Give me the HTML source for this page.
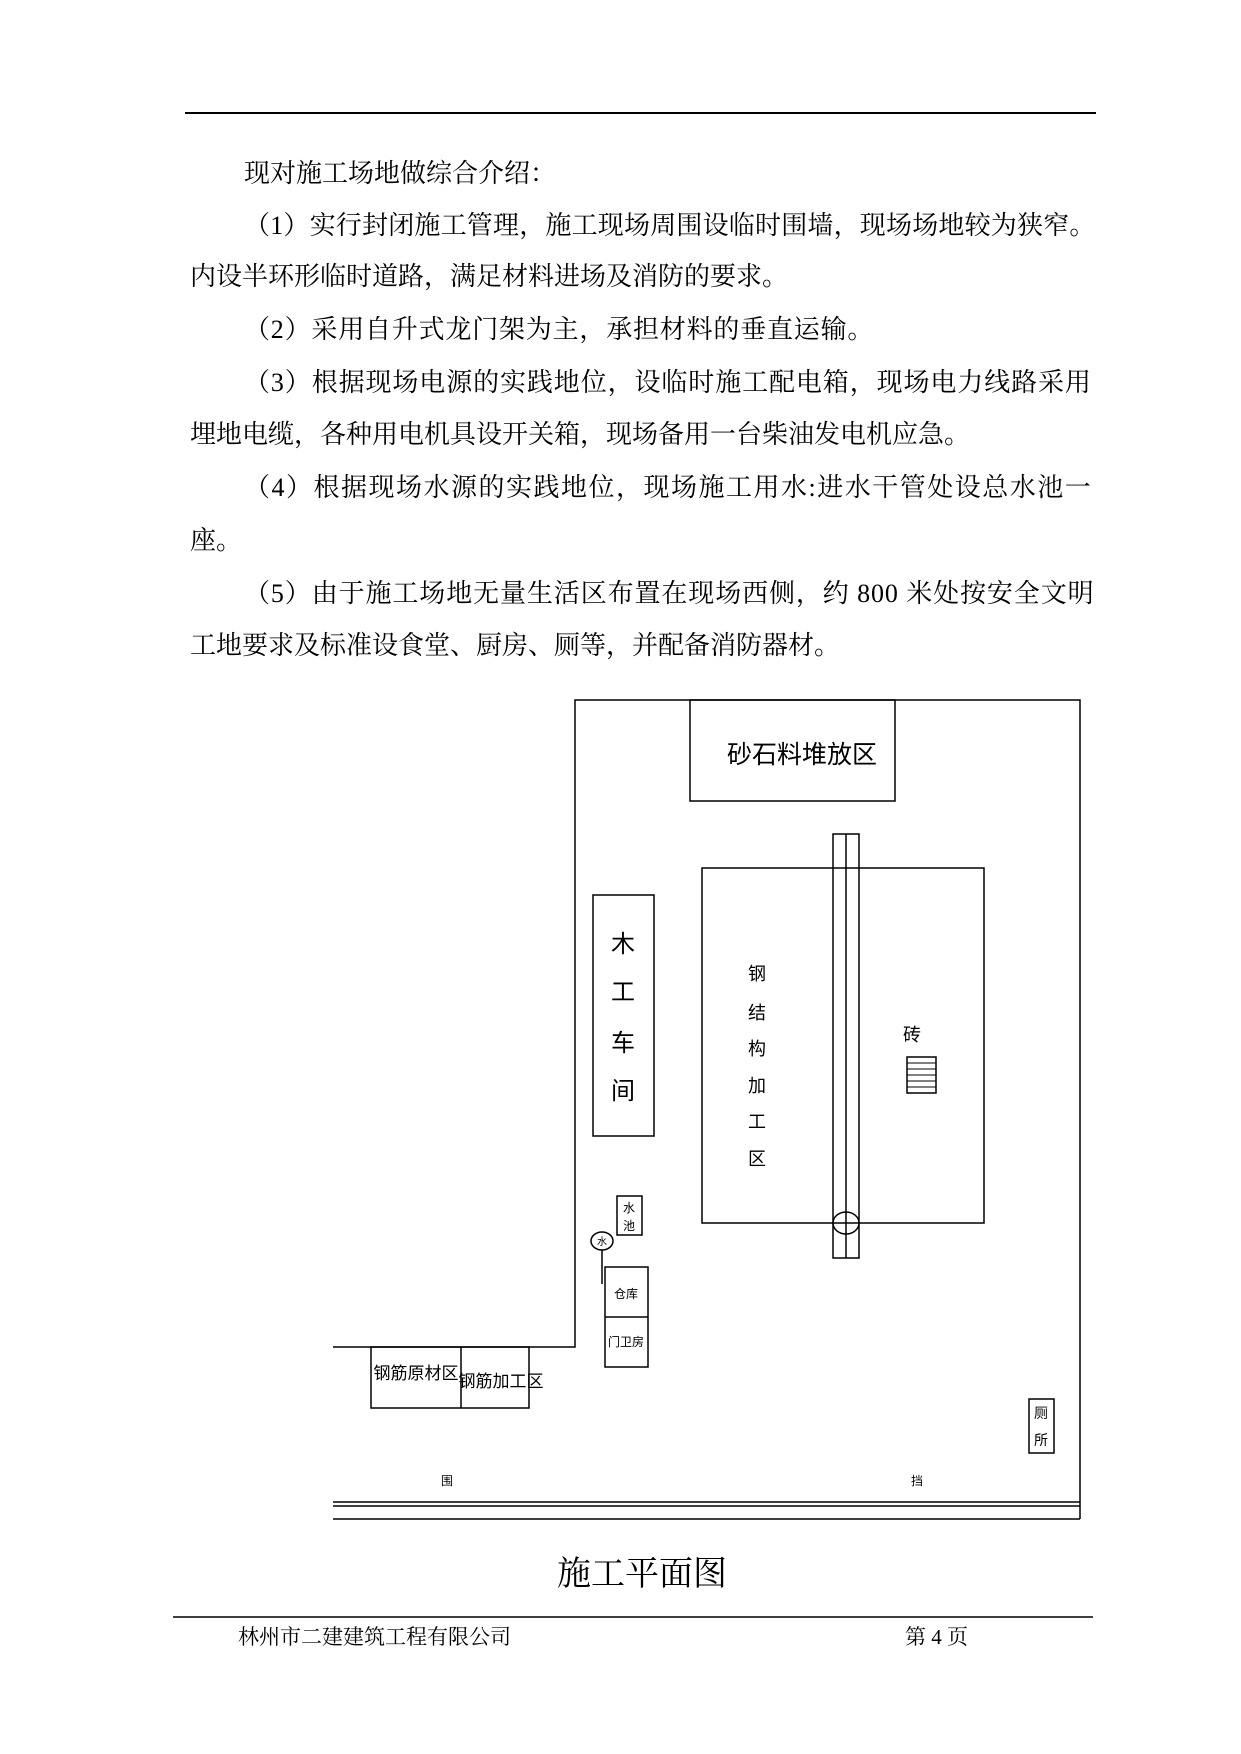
<!DOCTYPE html>
<html><head><meta charset="utf-8"><style>
body{margin:0;background:#fff;}
.p{position:relative;width:1241px;height:1754px;overflow:hidden;font-family:"Liberation Serif","Noto Serif CJK SC","Noto Sans CJK SC",serif;color:#000;}
.t{position:absolute;left:190px;font-size:26px;white-space:nowrap;line-height:30px;}
svg{position:absolute;left:0;top:0;}
</style></head><body><div class="p">
<div style="position:absolute;left:185px;top:112px;width:911px;height:2px;background:#000"></div>
<div class="t" style="left:244px;top:159px">现对施工场地做综合介绍：</div>
<div class="t" style="left:244px;top:211px;letter-spacing:0.2px">（1）实行封闭施工管理，施工现场周围设临时围墙，现场场地较为狭窄。</div>
<div class="t" style="top:262px">内设半环形临时道路，满足材料进场及消防的要求。</div>
<div class="t" style="left:244px;top:315px;letter-spacing:0.8px">（2）采用自升式龙门架为主，承担材料的垂直运输。</div>
<div class="t" style="left:244px;top:368px;letter-spacing:0.9px">（3）根据现场电源的实践地位，设临时施工配电箱，现场电力线路采用</div>
<div class="t" style="top:420px">埋地电缆，各种用电机具设开关箱，现场备用一台柴油发电机应急。</div>
<div class="t" style="left:244px;top:473px;letter-spacing:1.5px">（4）根据现场水源的实践地位，现场施工用水:进水干管处设总水池一</div>
<div class="t" style="top:526px">座。</div>
<div class="t" style="left:244px;top:579px;letter-spacing:0.9px">（5）由于施工场地无量生活区布置在现场西侧，约 800 米处按安全文明</div>
<div class="t" style="top:631px">工地要求及标准设食堂、厨房、厕等，并配备消防器材。</div>
<svg width="1241" height="1754" font-family="'Noto Sans CJK SC',sans-serif">
<g fill="none" stroke="#000" stroke-width="1.5">
<polyline points="333,1347 575,1347 575,700 1080,700 1080,1519"/>
<line x1="333" y1="1502" x2="1080" y2="1502"/><line x1="333" y1="1506" x2="1080" y2="1506"/><line x1="333" y1="1519" x2="1080" y2="1519"/>
<rect x="690" y="700" width="205" height="101"/>
<rect x="702" y="868" width="282" height="355"/>
<rect x="833" y="834" width="26" height="424"/><line x1="846" y1="834" x2="846" y2="1258"/>
<ellipse cx="846" cy="1223" rx="13" ry="11"/>
<rect x="593" y="895" width="61" height="241"/>
<rect x="617" y="1196" width="25" height="39"/>
<ellipse cx="602" cy="1241" rx="11" ry="9"/><line x1="602" y1="1250" x2="602" y2="1284"/>
<rect x="605" y="1267" width="43" height="100"/><line x1="605" y1="1317" x2="648" y2="1317"/>
<rect x="371" y="1347" width="158" height="61"/><line x1="461" y1="1347" x2="461" y2="1408"/>
<rect x="1029" y="1399" width="25" height="54"/>
<rect x="907" y="1057" width="29" height="36"/>
</g>
<g stroke="#000" stroke-width="1"><line x1="907" y1="1063" x2="936" y2="1063"/><line x1="907" y1="1069" x2="936" y2="1069"/><line x1="907" y1="1075" x2="936" y2="1075"/><line x1="907" y1="1081" x2="936" y2="1081"/><line x1="907" y1="1087" x2="936" y2="1087"/></g>
<g font-size="24" text-anchor="middle">
<text x="802" y="763" font-size="25">砂石料堆放区</text>
<text x="623" y="952">木</text><text x="623" y="1000">工</text><text x="623" y="1051">车</text><text x="623" y="1099">间</text>
</g>
<g font-size="18" text-anchor="middle">
<text x="757" y="980">钢</text><text x="757" y="1019">结</text><text x="757" y="1055">构</text><text x="757" y="1092">加</text><text x="757" y="1128">工</text><text x="757" y="1165">区</text>
<text x="912" y="1041">砖</text>
<text x="416" y="1379" font-size="17">钢筋原材区</text><text x="501" y="1387" font-size="17">钢筋加工区</text>
</g>
<g font-size="12" text-anchor="middle">
<text x="629" y="1212">水</text><text x="629" y="1230">池</text><text x="602" y="1245" font-size="10">水</text>
<text x="626" y="1298">仓库</text><text x="626" y="1346">门卫房</text>
<text x="1041" y="1418" font-size="14">厕</text><text x="1041" y="1445" font-size="14">所</text>
<text x="447" y="1485">围</text><text x="917" y="1485">挡</text>
</g>
<text x="642" y="1585" font-size="34" text-anchor="middle" font-family="'Liberation Serif','Noto Serif CJK SC',serif">施工平面图</text>
<line x1="173" y1="1617" x2="1093" y2="1617" stroke="#000" stroke-width="1.5"/>
<text x="238" y="1644" font-size="21" font-family="'Liberation Serif','Noto Serif CJK SC',serif">林州市二建建筑工程有限公司</text>
<text x="905" y="1644" font-size="21" font-family="'Liberation Serif','Noto Serif CJK SC',serif">第 4  页</text>
</svg>
</div></body></html>
